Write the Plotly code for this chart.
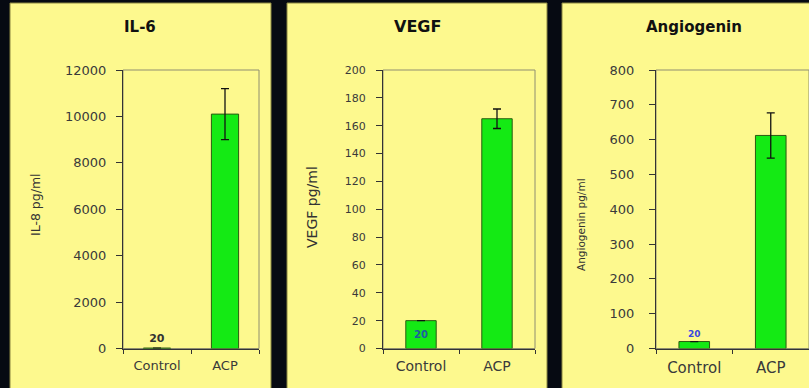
import plotly.graph_objects as go

# ---- data ----
categories = ["Control", "ACP"]
il6_values = [20, 10100]
il6_errors = [None, 1100]
vegf_values = [20, 165]
vegf_errors = [None, 7]
ang_values = [20, 612]
ang_errors = [None, 65]
titles = ["IL-6", "VEGF", "Angiogenin"]
ytitles = ["IL-8 pg/ml", "VEGF pg/ml", "Angiogenin pg/ml"]
label_text = ["20", ""]

W, H = 809, 388
def px(x):
    return x / W
def py(y):
    return 1 - y / H

BAR = "#14ea14"
PANEL = "#fdf98e"
PLOTBG = "#fefbd6"
FONT = "DejaVu Sans"

fig = go.Figure()

panels = [
    dict(vals=il6_values, errs=il6_errors, xd=[123, 259], rng=[0, 12000], dt=2000,
         tpos="outside", tcol="#333333", tsize=11, yfs=13, xfs=13, ystand=7,
         title_x=140, title_fs=15, yt_x=35, yt_y=205, yt_fs=12.5),
    dict(vals=vegf_values, errs=vegf_errors, xd=[383, 535], rng=[0, 200], dt=20,
         tpos="inside", tcol="#1d5fa0", tsize=10, yfs=11, xfs=14, ystand=8,
         title_x=417, title_fs=16, yt_x=312, yt_y=207, yt_fs=14),
    dict(vals=ang_values, errs=ang_errors, xd=[656, 809], rng=[0, 800], dt=100,
         tpos="outside", tcol="#3a48e0", tsize=9, yfs=13, xfs=15, ystand=12,
         title_x=694, title_fs=15, yt_x=581, yt_y=225, yt_fs=10.5),
]

annotations = []
for i, p in enumerate(panels):
    n = "" if i == 0 else str(i + 1)
    fig.add_trace(go.Bar(
        x=categories, y=p["vals"], xaxis="x" + n, yaxis="y" + n,
        width=0.4,
        marker=dict(color=BAR, line=dict(color="#2c5a10", width=1)),
        error_y=dict(type="data", array=p["errs"], color="#111111", thickness=1.3, width=4),
        text=label_text, textposition=p["tpos"],
        textfont=dict(family=FONT, size=p["tsize"], color=p["tcol"], weight="bold"),
        insidetextanchor="middle", cliponaxis=False,
        showlegend=False,
    ))
    dom_x = [px(p["xd"][0]), min(1.0, px(p["xd"][1]))]
    dom_y = [py(348.5), py(70)]
    fig.layout["xaxis" + n] = dict(
        domain=dom_x, anchor="y" + n, type="category", automargin=False,
        tickson="boundaries", ticks="outside", ticklen=4, tickcolor="#333333",
        showline=True, linecolor="#333333", linewidth=1.2, ticklabelstandoff=5,
        tickfont=dict(family=FONT, size=p["xfs"], color="#3a3a3a"),
        showgrid=False, fixedrange=True,
    )
    fig.layout["yaxis" + n] = dict(
        domain=dom_y, anchor="x" + n, range=p["rng"], dtick=p["dt"], tickformat="d",
        automargin=False,
        ticks="outside", ticklen=6, tickcolor="#333333", ticklabelstandoff=p["ystand"],
        showline=True, linecolor="#333333", linewidth=1.2,
        tickfont=dict(family=FONT, size=p["yfs"], color="#3a3a3a"),
        showgrid=False, zeroline=False, fixedrange=True,
    )
    annotations.append(dict(text="<b>" + titles[i] + "</b>", x=px(p["title_x"]), y=py(27),
                            xref="paper", yref="paper", xanchor="center", yanchor="middle",
                            showarrow=False,
                            font=dict(family=FONT, size=p["title_fs"], color="#111111")))
    annotations.append(dict(text=ytitles[i], x=px(p["yt_x"]), y=py(p["yt_y"]),
                            xref="paper", yref="paper", xanchor="center", yanchor="middle",
                            textangle=-90, showarrow=False,
                            font=dict(family=FONT, size=p["yt_fs"], color="#333333")))

# yellow panels
shapes = []
for x0, x1 in [(10, 271), (287, 547), (562, 812)]:
    shapes.append(dict(type="rect", xref="paper", yref="paper", layer="below",
                       x0=px(x0), x1=px(x1), y0=py(392), y1=py(3),
                       fillcolor=PANEL, line=dict(color="#8a8640", width=1)))
# plot-area borders
for i, p in enumerate(panels):
    n = "" if i == 0 else str(i + 1)
    shapes.append(dict(type="rect", xref="x" + n + " domain", yref="y" + n + " domain",
                       x0=0, x1=1, y0=0, y1=1, layer="below",
                       line=dict(color="#8f8e70", width=1)))

fig.update_layout(
    width=W, height=H, margin=dict(l=0, r=0, t=0, b=0, pad=0, autoexpand=False),
    paper_bgcolor="#060a12", plot_bgcolor=PLOTBG,
    shapes=shapes, annotations=annotations,
)

fig.write_html("out.html", config={"displayModeBar": False},
               post_script="document.body.style.margin='0';document.body.style.overflow='hidden';")
